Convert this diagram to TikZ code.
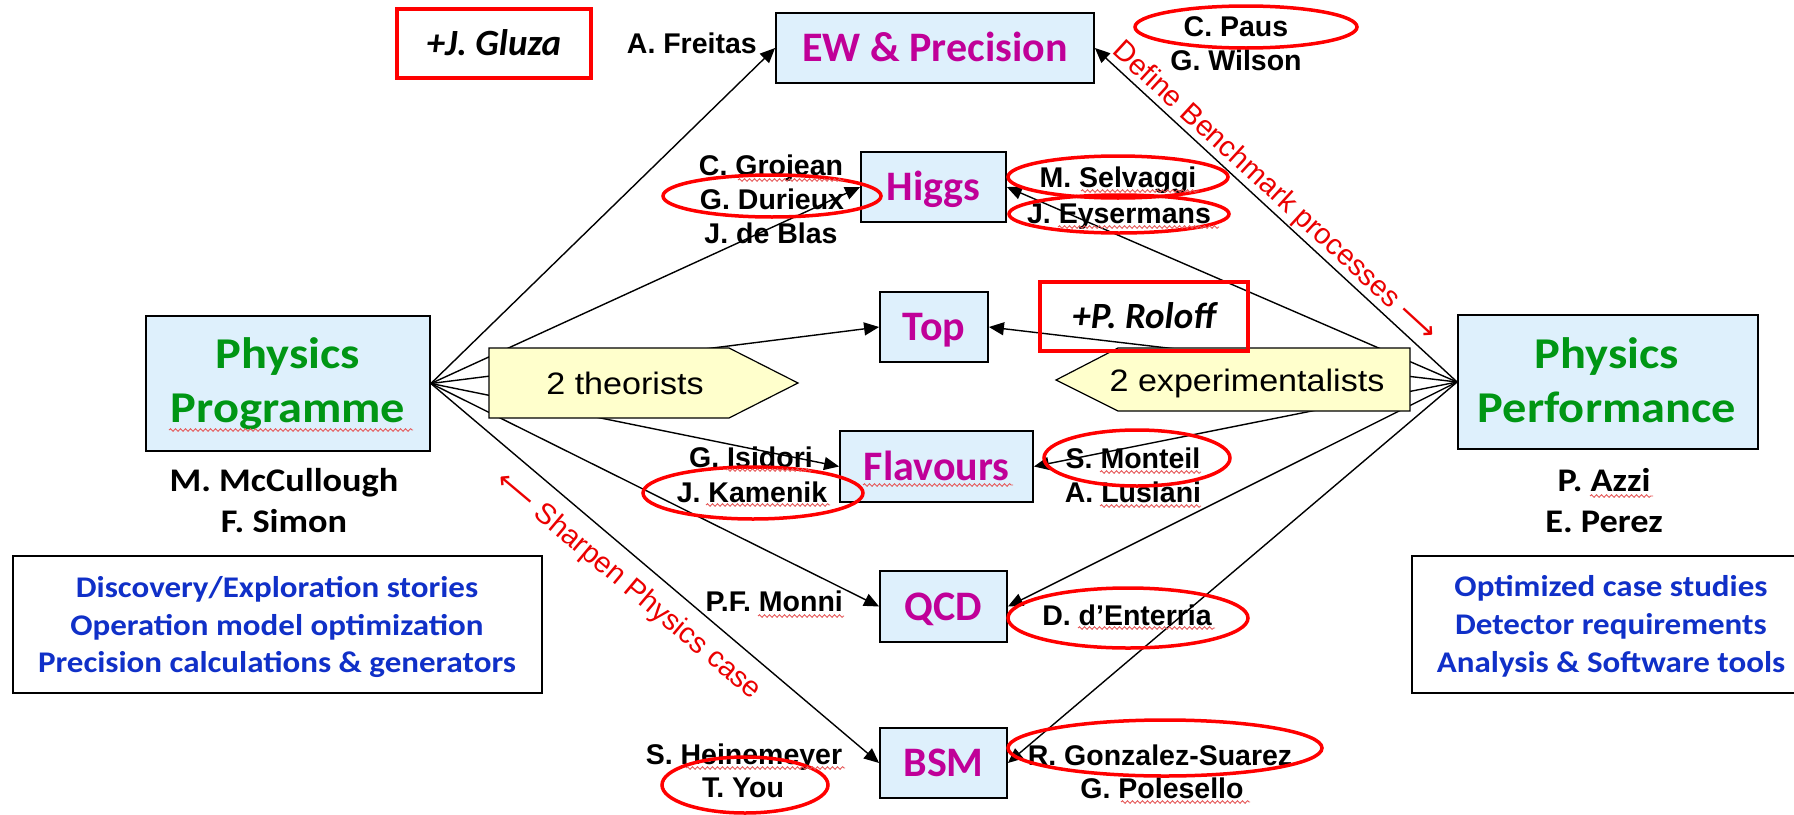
\documentclass[tikz,border=0pt]{standalone}
\usepackage{fontspec}
\setmainfont{Liberation Sans}
\newfontfamily\calfont{Carlito}
\newfontfamily\calwide[FakeStretch=1.1]{Carlito}
\newfontfamily\arialwide[FakeStretch=1.1]{Liberation Sans}
\newfontfamily\arrowfont{DejaVu Sans}
\usetikzlibrary{arrows.meta,shapes.geometric,decorations.pathmorphing}
\definecolor{boxfill}{RGB}{222,240,252}
\definecolor{pentfill}{RGB}{255,255,204}
\definecolor{topicmag}{RGB}{192,0,152}
\definecolor{titlegreen}{RGB}{0,150,20}
\definecolor{taskblue}{RGB}{16,48,200}
\definecolor{markred}{RGB}{255,0,0}
\definecolor{notered}{RGB}{235,0,0}
\definecolor{spellred}{RGB}{230,90,90}
\pgfdeclarelayer{background}
\pgfsetlayers{background,main}

\begin{document}
\begin{tikzpicture}[x=1pt,y=-1pt,
  topic/.style={draw=black,line width=1.8pt,fill=boxfill,inner sep=0pt,
    text=topicmag,font=\calfont\bfseries\fontsize{42}{48}\selectfont,
    text height=27pt,text depth=0pt},
  hub/.style={draw=black,line width=1.8pt,fill=boxfill,inner sep=0pt},
  hubtitle/.style={text=titlegreen,font=\calwide\bfseries\fontsize{44}{50}\selectfont,
    inner sep=0pt,text height=28.3pt,text depth=0pt},
  lead/.style={font=\calwide\bfseries\fontsize{33}{38}\selectfont,
    inner sep=0pt,text height=21.2pt,text depth=0pt},
  who/.style={font=\bfseries\fontsize{28.5}{34}\selectfont,
    inner sep=0pt,text height=20.4pt,text depth=0pt},
  taskbox/.style={draw=black,line width=1.8pt,fill=white,inner sep=0pt},
  task/.style={text=taskblue,font=\calwide\bfseries\fontsize{30}{36}\selectfont,
    inner sep=0pt,text height=19.3pt,text depth=0pt},
  pent/.style={draw=black,line width=1.2pt,fill=pentfill},
  penttext/.style={font=\arialwide\fontsize{31}{36}\selectfont,
    inner sep=0pt,text height=22.2pt,text depth=0pt},
  addbox/.style={draw=markred,line width=4pt,inner sep=0pt,
    font=\calfont\bfseries\itshape\fontsize{37}{44}\selectfont,text height=23.8pt,text depth=0pt},
  ring/.style={ellipse,draw=markred,line width=3.5pt,inner sep=0pt},
  flow/.style={line width=1.4pt,-{Triangle[length=15pt,width=13pt]}},
  note/.style={text=notered,font=\fontsize{29}{34}\selectfont,
    inner sep=0pt,text height=20.8pt,text depth=0pt},
  spell/.style={draw=spellred,line width=0.9pt,decorate,
    decoration={snake,amplitude=1.3pt,segment length=5pt}}
]
\useasboundingbox (0,0) rectangle (1794,814);

% the two hubs
\node[hub,minimum width=284pt,minimum height=135pt] (prog) at (288,383.5) {};
\node[hub,minimum width=300pt,minimum height=134pt] (perf) at (1608,382) {};
\node[hubtitle] (progA) at (288,354) {Physics};
\node[hubtitle] (progB) at (288,408) {Programme};
\node[hubtitle] (perfA) at (1607,354) {Physics};
\node[hubtitle] (perfB) at (1607,408) {Performance};
\node[lead] (mcc) at (284,481) {M. McCullough};
\node[lead] (simon) at (284,522) {F. Simon};
\node[lead] (azzi) at (1604,481) {P. Azzi};
\node[lead] (perez) at (1604,522) {E. Perez};

% task boxes
\node[taskbox,minimum width=529pt,minimum height=137pt] (ltasks) at (277.5,624.5) {};
\node[task] (lt1) at (277,588) {Discovery/Exploration stories};
\node[task] (lt2) at (277,626) {Operation model optimization};
\node[task] (lt3) at (277,663) {Precision calculations \& generators};
\node[taskbox,minimum width=398pt,minimum height=137pt] (rtasks) at (1611,624.5) {};
\node[task] (rt1) at (1611,587) {Optimized case studies};
\node[task] (rt2) at (1611,625) {Detector requirements};
\node[task] (rt3) at (1611,663) {Analysis \& Software tools};

% topic boxes
\node[topic,minimum width=318pt,minimum height=70pt] (ew) at (935,48) {EW \& Precision};
\node[topic,minimum width=145pt,minimum height=70pt] (higgs) at (933.5,187) {Higgs};
\node[topic,minimum width=108pt,minimum height=70pt] (top) at (934,327) {Top};
\node[topic,minimum width=193pt,minimum height=71pt] (flav) at (936.5,466.5) {Flavours};
\node[topic,minimum width=127pt,minimum height=71pt] (qcd) at (943.5,606.5) {QCD};
\node[topic,minimum width=127pt,minimum height=70pt] (bsm) at (943.5,763) {BSM};

% connectors, under everything else
\begin{pgfonlayer}{background}
\fill[white] (0,0) rectangle (1794,814);
\foreach \t in {ew,higgs,top,flav,qcd,bsm}{
  \draw[flow] (prog.east) -- (\t.west);
  \draw[flow] (perf.west) -- (\t.east);
}
\end{pgfonlayer}

% theorist / experimentalist tags
\draw[pent] (489,348) -- (729,348) -- (798,383) -- (729,418) -- (489,418) -- cycle;
\node[penttext] (theo) at (625,383) {2 theorists};
\draw[pent] (1410,348) -- (1118,348) -- (1056,380) -- (1118,411) -- (1410,411) -- cycle;
\node[penttext] (expt) at (1247,380) {2 experimentalists};

% conveners
\node[who,anchor=east] (freitas) at (757,43) {A. Freitas};
\node[who] (grojean) at (771,165) {C. Grojean};
\node[who] (durieux) at (772,199) {G. Durieux};
\node[who] (deblas) at (771,233) {J. de Blas};
\node[who] (isidori) at (751,457) {G. Isidori};
\node[who] (kamenik) at (752,492) {J. Kamenik};
\node[who,anchor=east] (monni) at (843,601) {P.F. Monni};
\node[who] (heinemeyer) at (744,754) {S. Heinemeyer};
\node[who] (you) at (743,787) {T. You};
\node[who] (paus) at (1236,26) {C. Paus};
\node[who] (wilson) at (1236,60) {G. Wilson};
\node[who] (selvaggi) at (1118,177) {M. Selvaggi};
\node[who] (eysermans) at (1119,213) {J. Eysermans};
\node[who] (monteil) at (1133,458) {S. Monteil};
\node[who] (lusiani) at (1133,492) {A. Lusiani};
\node[who] (enterria) at (1127,615) {D. d’Enterria};
\node[who] (gonzalez) at (1160,755) {R. Gonzalez-Suarez};
\node[who] (polesello) at (1162,788) {G. Polesello};

% additions
\node[addbox,minimum width=194pt,minimum height=69pt] (gluza) at (494,43.5) {+J. Gluza};
\node[addbox,minimum width=208pt,minimum height=69pt] (roloff) at (1144,316.5) {+P. Roloff};

% rotated notes
\node[note,rotate=-42.5] (define) at (1276,190) {Define Benchmark processes {\arrowfont ⟶}};
\node[note,rotate=-40] (sharpen) at (630,584) {{\arrowfont ⟵} Sharpen Physics case};

% red rings
\node[ring,minimum width=222pt,minimum height=42pt] (r1) at (1246,27) {};
\node[ring,minimum width=218pt,minimum height=42pt] (r2) at (772,196) {};
\node[ring,minimum width=220pt,minimum height=42pt] (r3) at (1118,177) {};
\node[ring,minimum width=220pt,minimum height=38pt] (r4) at (1119,214) {};
\node[ring,minimum width=220pt,minimum height=52pt] (r5) at (753,493) {};
\node[ring,minimum width=186pt,minimum height=56pt] (r6) at (1137,458) {};
\node[ring,minimum width=240pt,minimum height=60pt] (r7) at (1128,618) {};
\node[ring,minimum width=314pt,minimum height=56pt] (r8) at (1165,748) {};
\node[ring,minimum width=166pt,minimum height=56pt] (r9) at (745,785) {};

% spelling marks
\draw[spell] (169,430) -- (413,430);
\draw[spell] (863,485) -- (1013,485);
\draw[spell] (738,180) -- (844,180);
\draw[spell] (726,470) -- (812,470);
\draw[spell] (706,505) -- (830,505);
\draw[spell] (1100,472) -- (1201,472);
\draw[spell] (1100,506) -- (1201,506);
\draw[spell] (1590,496) -- (1653,496);
\draw[spell] (758,616) -- (844,616);
\draw[spell] (686,768) -- (845,768);
\draw[spell] (1078,628) -- (1215,628);
\draw[spell] (1121,802) -- (1250,802);
\draw[spell] (1081,191) -- (1199,191);
\draw[spell] (1058,227) -- (1219,227);
\end{tikzpicture}
\end{document}
